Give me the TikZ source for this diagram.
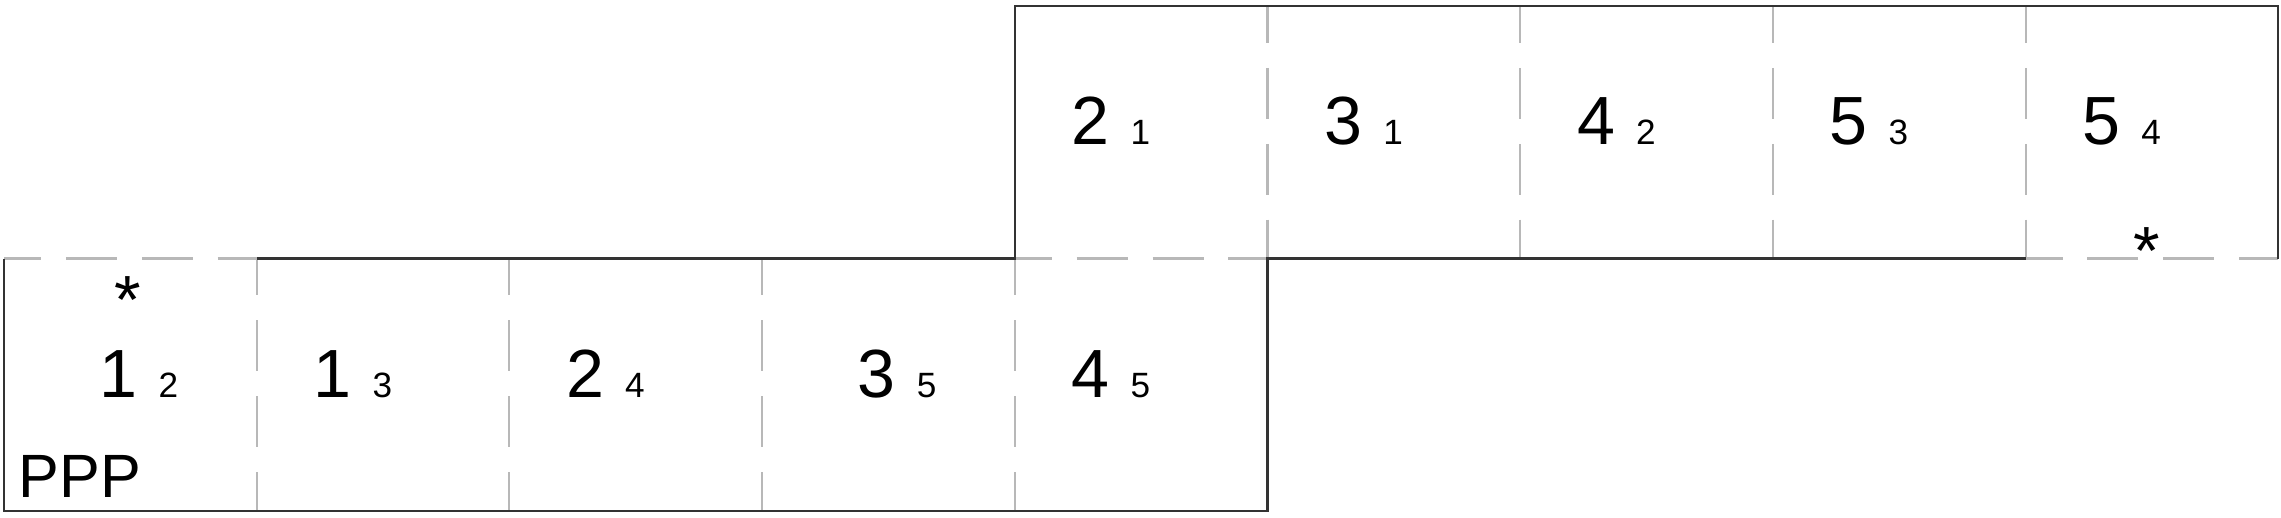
\documentclass[tikz,border=0pt]{standalone}
\usepackage{fontspec}
\setmainfont{Liberation Sans}
\newcommand{\celllab}[2]{{\fontsize{19.4}{22}\selectfont #1}\hspace{6pt}{\fontsize{10}{12}\selectfont #2}}

\begin{document}
\begin{tikzpicture}[x=2.527cm, y=2.525cm,
		edge/.style={line width=0.6pt, draw=black!80},
		open/.style={line width=0.6pt, draw=black!28, dash pattern=on 14.5pt off 7.1pt, dash phase=4pt},
		lab/.style={anchor=base west, inner sep=0pt},
		star/.style={anchor=north, inner sep=0pt, font=\fontsize{19.4}{22}\selectfont}]
	\useasboundingbox (-0.0158,-0.025) rectangle (9.0107,2.0238);
	% dividers
	\foreach \x in {1,...,4} \draw[open] (\x,1)--(\x,0);
	\foreach \x in {5,...,8} \draw[open] (\x,2)--(\x,1);
	\draw[open] (0,1)--(1,1);
	\draw[open] (4,1)--(5,1);
	\draw[open] (8,1)--(9,1);
	% outline
	\draw[edge] (0,1)--(0,0)--(5,0)--(5,1)--(8,1);
	\draw[edge] (9,1)--(9,2)--(4,2)--(4,1)--(1,1);
	% labels
	\foreach \i/\a/\b/\d in {0/1/2/0.376, 1/1/3/0.222, 2/2/4/0.222, 3/3/5/0.376, 4/4/5/0.222}
		\node[lab] (b\i) at (\i+\d,0.45) {\celllab{\a}{\b}};
	\foreach \i/\a/\b in {4/2/1, 5/3/1, 6/4/2, 7/5/3, 8/5/4}
		\node[lab] (t\i) at (\i+0.222,1.45) {\celllab{\a}{\b}};
	\node[star] (s0) at (0.491,0.9295) {*};
	\node[star] (s8) at (8.480,1.124) {*};
	\node[lab, font=\fontsize{17.4}{20}\selectfont] (ppp) at (0.055,0.054) {PPP};
\end{tikzpicture}
\end{document}
